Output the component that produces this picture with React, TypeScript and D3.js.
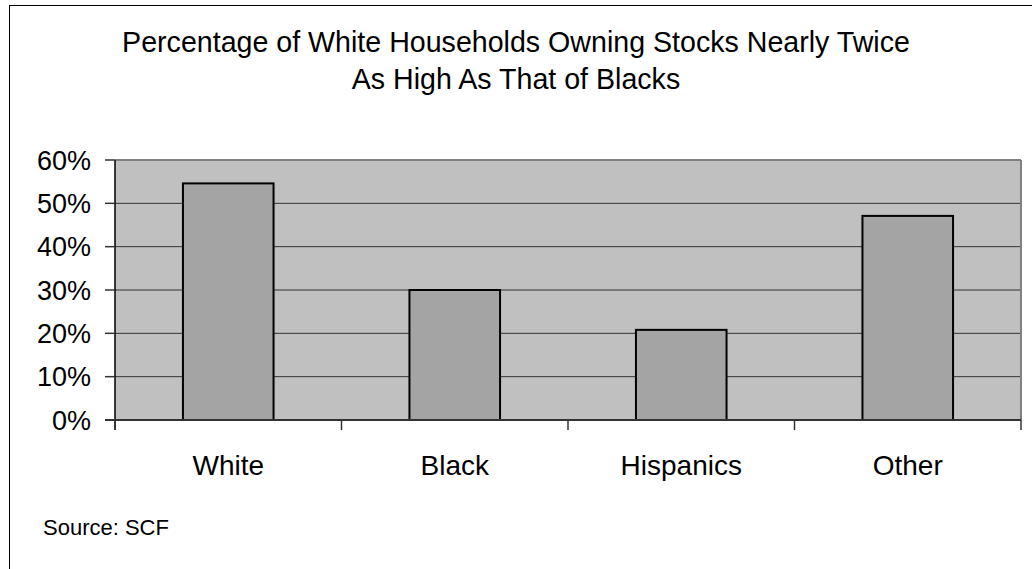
import React from "react";
import * as d3 from "d3";

const categories = ["White", "Black", "Hispanics", "Other"];
const values = [0.546, 0.30, 0.208, 0.471];
const yTicks = [0, 0.1, 0.2, 0.3, 0.4, 0.5, 0.6];
const titleLines = [
  "Percentage of White Households Owning Stocks Nearly Twice",
  "As High As That of Blacks",
];
const sourceText = "Source: SCF";

export default function App() {
  const W = 1032;
  const H = 569;
  const left = 115;
  const right = 1021;
  const top = 160;
  const bottom = 420;
  const font = "Arial, 'Liberation Sans', sans-serif";

  const x = d3
    .scaleBand<string>()
    .domain(categories)
    .range([left, right])
    .paddingInner(0.6)
    .paddingOuter(0.3);
  const y = d3.scaleLinear().domain([0, 0.6]).range([bottom, top]);
  const step = (right - left) / categories.length;
  const fmt = d3.format(".0%");

  return (
    <svg
      width={W}
      height={H}
      style={{ position: "absolute", left: 0, top: 0 }}
      xmlns="http://www.w3.org/2000/svg"
    >
      <rect x={0} y={0} width={W} height={H} fill="#fff" />
      <rect x={9.5} y={5.5} width={W + 20} height={H + 20} fill="none" stroke="#000" strokeWidth={1} />
      {titleLines.map((t, i) => (
        <text
          key={i}
          x={516}
          y={52 + i * 37}
          textAnchor="middle"
          fontFamily={font}
          fontSize={28.6}
          fill="#000"
        >
          {t}
        </text>
      ))}
      <rect x={left} y={top} width={right - left} height={bottom - top} fill="#C0C0C0" />
      {yTicks.slice(1, -1).map((v) => (
        <line key={v} x1={left} x2={right} y1={y(v)} y2={y(v)} stroke="#333" strokeWidth={1} />
      ))}
      <line x1={left} x2={right} y1={top} y2={top} stroke="#808080" strokeWidth={2} />
      <line x1={right} x2={right} y1={top} y2={bottom} stroke="#808080" strokeWidth={2} />
      {categories.map((c, i) => (
        <rect
          key={c}
          x={x(c)}
          y={y(values[i])}
          width={x.bandwidth()}
          height={bottom - y(values[i])}
          fill="#A4A4A4"
          stroke="#000"
          strokeWidth={2}
        />
      ))}
      <line x1={left} x2={left} y1={top} y2={bottom + 10} stroke="#000" strokeWidth={1.5} />
      <line x1={left - 10} x2={right} y1={bottom} y2={bottom} stroke="#333" strokeWidth={2} />
      {yTicks.map((v) => (
        <g key={v}>
          <line x1={left - 10} x2={left} y1={y(v)} y2={y(v)} stroke="#333" strokeWidth={1.5} />
          <text
            x={91}
            y={y(v)}
            dy="0.36em"
            textAnchor="end"
            fontFamily={font}
            fontSize={27}
            fill="#000"
          >
            {fmt(v)}
          </text>
        </g>
      ))}
      {d3.range(categories.length + 1).map((i) => (
        <line
          key={i}
          x1={left + i * step}
          x2={left + i * step}
          y1={bottom}
          y2={bottom + 10}
          stroke="#333"
          strokeWidth={1.5}
        />
      ))}
      {categories.map((c) => (
        <text
          key={c}
          x={(x(c) as number) + x.bandwidth() / 2}
          y={475}
          textAnchor="middle"
          fontFamily={font}
          fontSize={28}
          fill="#000"
        >
          {c}
        </text>
      ))}
      <text x={43} y={535} fontFamily={font} fontSize={22} fill="#000">
        {sourceText}
      </text>
    </svg>
  );
}
